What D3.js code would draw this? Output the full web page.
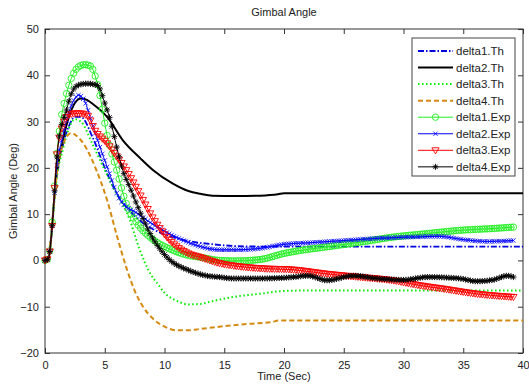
<!DOCTYPE html>
<html>
<head>
<meta charset="utf-8">
<script src="https://cdn.jsdelivr.net/npm/d3@7"></script>
<style>
  body { margin: 0; background: #fff; }
  text { font-family: "Liberation Sans", Arial, sans-serif; }
</style>
</head>
<body>
<svg id="chart" width="529" height="385"></svg>
<script>
// values, [time, angle]
var delta1Th = [[0,0],[0.3,0.5],[0.5,4.5],[0.7,11],[0.9,17],[1.5,25],[2,29],[2.5,31],[3,31],[4,26.5],[5,20],[6,14.5],[7,11],[8,8.5],[9,6.8],[10,5.6],[11,4.8],[12,4.2],[14,3.5],[16,3.1],[18,3],[40,3]];
var delta2Th = [[0,0],[0.3,0.5],[0.5,4.5],[0.7,11],[0.9,17],[1.2,22],[1.5,26],[2,31],[2.5,34],[3,35],[3.5,34.7],[4,33.8],[5.2,31],[6.5,26],[8,22],[9,19.6],[10.7,16.6],[12,15],[13,14.4],[14,14],[16,13.9],[18,14],[19.5,14.3],[20,14.5],[40,14.5]];
var delta3Th = [[0,0],[0.3,0.5],[0.5,4.5],[0.7,10],[0.9,16],[1.5,24],[2,28.5],[2.5,30.5],[3,30],[4,25],[5,19.5],[5.7,15.8],[7.1,8.7],[7.9,2.5],[8.8,-2.8],[9.5,-5.3],[10,-7],[11,-8.7],[12,-9.5],[13,-9.4],[14,-8.8],[16,-7.8],[18,-7.2],[20,-6.6],[22,-6.5],[40,-6.5]];
var delta4Th = [[0,0],[0.3,0.5],[0.5,5],[0.7,11],[1,19],[1.5,25],[2.2,27.5],[2.6,27],[3.2,25.3],[4.3,19.5],[5.2,13],[6,5.5],[6.8,-1.5],[7.5,-6.5],[8.2,-10],[9,-12.5],[10,-14.3],[11,-15.1],[12,-15.1],[13,-14.8],[15,-14.2],[17,-13.7],[19,-13.3],[19.5,-13],[40,-13]];
var delta1Exp = [[0,0],[0.3,0.5],[0.5,5],[0.7,12],[0.9,20],[1.25,29],[1.7,35],[2.2,39.3],[2.9,42],[3.3,42.3],[3.8,42],[4.4,38],[5.2,27],[6,19.5],[6.8,12.3],[7.7,8],[8.8,5],[10.7,2.2],[12,1.1],[13,0.7],[14.6,0],[16,-0.1],[18,0.2],[20,1.5],[21,2],[23.5,2.9],[26.5,4],[29,5],[32,5.8],[34.7,6.5],[37.5,6.9],[39.2,7.2]];
var delta2Exp = [[0,0],[0.3,0.5],[0.5,4.5],[0.7,11],[0.9,18],[1.5,27],[2,32],[2.5,35],[2.8,35.7],[3.3,34.5],[4,29],[5.2,20.2],[6.3,13],[7.7,10.2],[9.4,7.2],[11.6,4.3],[13,3],[14.6,2.3],[16,2.3],[18,2.6],[20,3.5],[22,3.8],[25,4.3],[28,4.8],[30,5],[33,5.2],[35,4.5],[37,4.1],[39.2,4.3]];
var delta3Exp = [[0,0],[0.3,0.5],[0.5,4.5],[0.7,11],[0.9,20],[1.4,28.5],[2.1,31.6],[2.8,31.8],[3.5,31.4],[4.2,28],[5.2,25.3],[6,22.5],[6.8,19.5],[7.9,14.5],[9,9.3],[10.7,3.7],[12,1.5],[13,0.7],[14.6,-0.6],[15.7,-1.1],[18,-1.7],[20.8,-2],[23.6,-2.9],[26.4,-3.6],[29.1,-4.3],[31.4,-5.4],[33.3,-6.1],[36.1,-7.2],[39.2,-7.9]];
var delta4Exp = [[0,0],[0.3,0.5],[0.5,4.5],[0.7,11],[0.9,19],[1.1,25],[1.8,32.5],[2.2,36],[2.8,37.9],[3.5,38.2],[4.4,37.8],[5,34],[5.5,30],[6,24.5],[6.5,19.5],[7.1,15.8],[7.9,10.8],[8.8,5.8],[10.2,0.7],[12.1,-2.2],[13.5,-3.3],[14.6,-3.6],[15.7,-3.9],[18,-3.9],[20.8,-3.6],[22,-3.3],[23.6,-4.3],[25.8,-3.3],[27.8,-3.9],[30,-4.2],[32,-3.6],[34.7,-3.9],[36.1,-4.5],[37.5,-4.2],[38.7,-3.3],[39.2,-3.6]];

var xTicks = [0,5,10,15,20,25,30,35,40];
var yTicks = [-20,-10,0,10,20,30,40,50];
var seriesNames = ["delta1.Th","delta2.Th","delta3.Th","delta4.Th","delta1.Exp","delta2.Exp","delta3.Exp","delta4.Exp"];

var series = [
  {name: seriesNames[0], data: delta1Th, color: "#0000e0", width: 1.8, dash: "6,2,1.5,2"},
  {name: seriesNames[1], data: delta2Th, color: "#000000", width: 2, dash: null},
  {name: seriesNames[2], data: delta3Th, color: "#00ee00", width: 2, dash: "1.5,2.5"},
  {name: seriesNames[3], data: delta4Th, color: "#d48a10", width: 2, dash: "5,3"},
  {name: seriesNames[4], data: delta1Exp, color: "#22ee22", width: 1, dash: null, marker: "o"},
  {name: seriesNames[5], data: delta2Exp, color: "#0000ff", width: 1, dash: null, marker: "x"},
  {name: seriesNames[6], data: delta3Exp, color: "#ff0000", width: 1, dash: null, marker: "v"},
  {name: seriesNames[7], data: delta4Exp, color: "#000000", width: 1, dash: null, marker: "*"}
];

var svg = d3.select("#chart");
var mLeft = 45, mRight = 523, mTop = 29, mBottom = 353;

var x = d3.scaleLinear().domain([0, 40]).range([mLeft, mRight]);
var y = d3.scaleLinear().domain([-20, 50]).range([mBottom, mTop]);

var line = d3.line()
  .x(d => x(d[0]))
  .y(d => y(d[1]))
  .curve(d3.curveMonotoneX);

// axes, ticks pointing inward on all four sides
svg.append("g")
    .attr("transform", "translate(0," + mBottom + ")")
    .call(d3.axisBottom(x).tickValues(xTicks).tickSizeInner(-5).tickSizeOuter(0).tickPadding(8))
    .call(g => g.select(".domain").remove());
svg.append("g")
    .attr("transform", "translate(0," + mTop + ")")
    .call(d3.axisTop(x).tickValues(xTicks).tickSizeInner(-5).tickSizeOuter(0).tickFormat(""))
    .call(g => g.select(".domain").remove());
svg.append("g")
    .attr("transform", "translate(" + mLeft + ",0)")
    .call(d3.axisLeft(y).tickValues(yTicks).tickSizeInner(-5).tickSizeOuter(0).tickPadding(6))
    .call(g => g.select(".domain").remove());
svg.append("g")
    .attr("transform", "translate(" + mRight + ",0)")
    .call(d3.axisRight(y).tickValues(yTicks).tickSizeInner(-5).tickSizeOuter(0).tickFormat(""))
    .call(g => g.select(".domain").remove());

svg.selectAll(".tick line").attr("stroke", "#333");
svg.selectAll(".tick text").attr("font-size", "11px").attr("fill", "#222")
   .style("font-family", "'Liberation Sans', Arial, sans-serif");

svg.append("rect")
    .attr("x", mLeft).attr("y", mTop)
    .attr("width", mRight - mLeft).attr("height", mBottom - mTop)
    .attr("fill", "none").attr("stroke", "#333").attr("stroke-width", 1);

function drawMarker(g, type, cx, cy, color) {
  if (type === "o") {
    g.append("circle").attr("cx", cx).attr("cy", cy).attr("r", 3.2)
      .attr("fill", "none").attr("stroke", color).attr("stroke-width", 0.9);
  } else if (type === "x") {
    var s = 2.2;
    g.append("path").attr("d", "M" + (cx - s) + "," + (cy - s) + "L" + (cx + s) + "," + (cy + s) +
        "M" + (cx - s) + "," + (cy + s) + "L" + (cx + s) + "," + (cy - s))
      .attr("stroke", color).attr("stroke-width", 0.8);
  } else if (type === "v") {
    var h = 3.6;
    g.append("path").attr("d", "M" + (cx - h) + "," + (cy - h * 0.7) + "L" + (cx + h) + "," + (cy - h * 0.7) +
        "L" + cx + "," + (cy + h) + "Z")
      .attr("fill", "none").attr("stroke", color).attr("stroke-width", 0.9);
  } else if (type === "*") {
    var a = 3, b = 2.2;
    g.append("path").attr("d", "M" + (cx - a) + "," + cy + "L" + (cx + a) + "," + cy +
        "M" + cx + "," + (cy - a) + "L" + cx + "," + (cy + a) +
        "M" + (cx - b) + "," + (cy - b) + "L" + (cx + b) + "," + (cy + b) +
        "M" + (cx - b) + "," + (cy + b) + "L" + (cx + b) + "," + (cy - b))
      .attr("stroke", color).attr("stroke-width", 0.9);
  }
}

// point on a drawn path at a given screen x (path runs left to right)
function pointAtX(node, total, px) {
  var lo = 0, hi = total;
  for (var i = 0; i < 30; i++) {
    var mid = (lo + hi) / 2;
    if (node.getPointAtLength(mid).x < px) lo = mid; else hi = mid;
  }
  return node.getPointAtLength((lo + hi) / 2);
}

var plot = svg.append("g");

series.forEach(function(s) {
  var p = plot.append("path")
    .datum(s.data)
    .attr("fill", "none")
    .attr("stroke", s.color)
    .attr("stroke-width", s.width)
    .attr("stroke-dasharray", s.dash)
    .attr("d", line);

  if (s.marker) {
    var node = p.node(), total = node.getTotalLength();
    var tEnd = s.data[s.data.length - 1][0];
    var mg = plot.append("g");
    for (var t = 0; t <= tEnd + 1e-6; t += 0.2) {
      var pt = pointAtX(node, total, x(t));
      drawMarker(mg, s.marker, pt.x, pt.y, s.color);
    }
  }
});

// title and axis labels
svg.append("text")
    .attr("x", (mLeft + mRight) / 2).attr("y", 16)
    .attr("text-anchor", "middle").attr("font-size", "11px").attr("fill", "#222")
    .text("Gimbal Angle");
svg.append("text")
    .attr("x", (mLeft + mRight) / 2).attr("y", 380)
    .attr("text-anchor", "middle").attr("font-size", "11px").attr("fill", "#222")
    .text("Time (Sec)");
svg.append("text")
    .attr("transform", "translate(17," + ((mTop + mBottom) / 2) + ") rotate(-90)")
    .attr("text-anchor", "middle").attr("font-size", "11px").attr("fill", "#222")
    .text("Gimbal Angle (Deg)");

// legend
var legend = svg.append("g");
legend.append("rect")
    .attr("x", 412).attr("y", 38).attr("width", 103).attr("height", 138)
    .attr("fill", "#fff").attr("stroke", "#444").attr("stroke-width", 1);

series.forEach(function(s, i) {
  var ly = 51 + i * 16.55;
  legend.append("line")
    .attr("x1", 418).attr("x2", 453).attr("y1", ly).attr("y2", ly)
    .attr("stroke", s.color).attr("stroke-width", s.width)
    .attr("stroke-dasharray", s.dash);
  if (s.marker) drawMarker(legend, s.marker, 435.5, ly, s.color);
  legend.append("text")
    .attr("x", 456).attr("y", ly + 4)
    .attr("font-size", "11.5px").attr("fill", "#222")
    .text(s.name);
});
</script>
</body>
</html>
